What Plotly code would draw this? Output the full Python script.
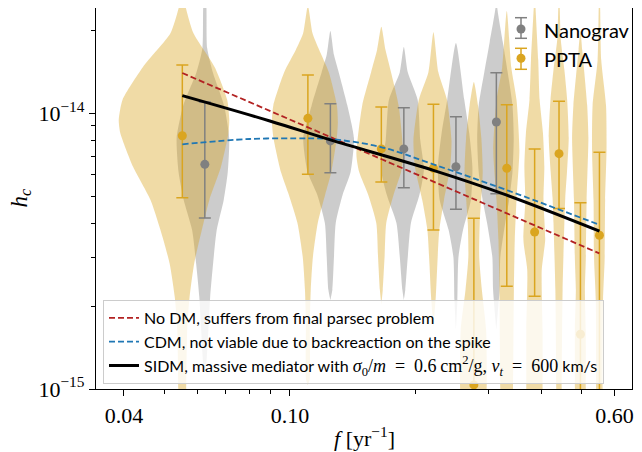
import plotly.graph_objects as go

# ---- data ----
# NANOGrav: frequency [1/yr], h_c median and 1-sigma bounds
nano_f = [0.0625, 0.125, 0.1875, 0.25, 0.3125]
nano_h = [6.53e-15, 7.94e-15, 7.43e-15, 6.40e-15, 9.30e-15]
nano_hi = [1.099e-14, 1.083e-14, 1.047e-14, 9.72e-15, 1.403e-14]
nano_lo = [4.17e-15, 6.09e-15, 5.37e-15, 4.49e-15, 5.11e-15]

# PPTA
ppta_f = [0.0552, 0.1104, 0.1656, 0.2208, 0.276, 0.331, 0.386, 0.4416, 0.497, 0.552]
ppta_h = [8.29e-15, 9.59e-15, 7.43e-15, 6.32e-15, 1.035e-15, 6.32e-15, 3.71e-15, 7.14e-15, 1.58e-15, 3.61e-15]
ppta_hi = [1.497e-14, 1.377e-14, 1.054e-14, 1.078e-14, 4.16e-15, 1.074e-14, 7.43e-15, 1.105e-14, 4.74e-15, 7.22e-15]
ppta_lo = [4.94e-15, 6.01e-15, 5.64e-15, 3.77e-15, 2.0e-16, 2.36e-15, 2.17e-15, 4.52e-15, 5.0e-16, 5.0e-16]

# violin outlines: h_c knots (top -> bottom) and half width relative to f
nano_vh = [
    [2.8e-14, 2.41e-14, 1.726e-14, 1.41e-14, 1.07e-14, 8.13e-15, 6.12e-15, 4.85e-15, 3.78e-15, 2.86e-15, 2.16e-15, 1.64e-15, 1.22e-15, 1.15e-15],
    [1.99e-14, 1.63e-14, 1.41e-14, 1.07e-14, 8.13e-15, 6.12e-15, 5.06e-15, 4.0e-15, 3.01e-15, 2.29e-15, 2.10e-15],
    [1.74e-14, 1.41e-14, 1.12e-14, 8.0e-15, 6.23e-15, 5.06e-15, 4.0e-15, 3.01e-15, 2.29e-15, 2.10e-15],
    [1.80e-14, 1.12e-14, 8.48e-15, 6.38e-15, 4.85e-15, 3.78e-15, 3.01e-15, 2.10e-15, 1.64e-15],
    [2.8e-14, 2.41e-14, 1.815e-14, 1.41e-14, 1.07e-14, 8.13e-15, 6.12e-15, 4.85e-15, 4.0e-15, 3.01e-15, 2.29e-15, 1.64e-15],
]
nano_vw = [
    [0, 0.009, 0.013, 0.045, 0.112, 0.144, 0.135, 0.11, 0.068, 0.047, 0.03, 0.02, 0.008, 0],
    [0, 0.02, 0.047, 0.098, 0.139, 0.118, 0.07, 0.03, 0.02, 0.011, 0],
    [0, 0.022, 0.079, 0.095, 0.117, 0.09, 0.04, 0.022, 0.008, 0],
    [0, 0.047, 0.076, 0.095, 0.086, 0.04, 0.014, 0.008, 0],
    [0, 0.005, 0.036, 0.0645, 0.093, 0.1005, 0.093, 0.073, 0.05, 0.022, 0.018, 0],
]
ppta_vh = [
    [2.8e-14, 2.41e-14, 1.95e-14, 1.47e-14, 1.12e-14, 9.46e-15, 8.48e-15, 6.38e-15, 4.85e-15, 3.78e-15, 2.86e-15, 2.16e-15, 1.64e-15, 1.0e-15, 7.7e-16],
    [2.45e-14, 1.95e-14, 1.70e-14, 1.41e-14, 1.07e-14, 9.30e-15, 8.13e-15, 6.12e-15, 5.06e-15, 4.0e-15, 3.01e-15, 2.29e-15, 1.735e-15, 1.08e-15, 1.035e-15],
    [2.06e-14, 1.70e-14, 1.41e-14, 1.07e-14, 7.06e-15, 6.12e-15, 5.06e-15, 4.0e-15, 3.01e-15, 2.29e-15, 2.02e-15],
    [1.97e-14, 1.41e-14, 1.12e-14, 8.0e-15, 6.38e-15, 4.85e-15, 3.78e-15, 2.86e-15, 2.16e-15, 1.68e-15],
    [1.30e-14, 1.07e-14, 8.13e-15, 6.12e-15, 4.0e-15, 3.01e-15, 2.29e-15, 1.64e-15, 1.0e-15, 7.7e-16],
    [2.35e-14, 1.47e-14, 1.12e-14, 7.36e-15, 4.85e-15, 3.47e-15, 2.29e-15, 1.0e-15, 7.7e-16],
    [2.8e-14, 2.41e-14, 1.56e-14, 1.12e-14, 8.48e-15, 6.38e-15, 4.85e-15, 3.47e-15, 2.70e-15, 1.64e-15, 1.0e-15, 7.7e-16],
    [2.8e-14, 2.41e-14, 1.845e-14, 1.44e-14, 1.12e-14, 8.13e-15, 6.12e-15, 4.93e-15, 4.0e-15, 2.29e-15, 1.0e-15, 7.7e-16],
    [2.0e-14, 1.70e-14, 1.07e-14, 8.13e-15, 4.85e-15, 2.94e-15, 2.29e-15, 1.64e-15, 1.0e-15, 7.7e-16],
    [2.8e-14, 2.41e-14, 1.56e-14, 1.07e-14, 7.36e-15, 4.85e-15, 2.94e-15, 2.10e-15, 1.0e-15, 7.7e-16],
]
ppta_vw = [
    [0, 0.02, 0.0635, 0.196, 0.281, 0.296, 0.29, 0.2375, 0.161, 0.114, 0.068, 0.041, 0.0275, 0.022, 0.02],
    [0, 0.026, 0.064, 0.1225, 0.1735, 0.18, 0.173, 0.138, 0.1, 0.056, 0.028, 0.016, 0.011, 0.01, 0],
    [0, 0.023, 0.055, 0.1, 0.1285, 0.115, 0.07, 0.0275, 0.018, 0.008, 0],
    [0, 0.0275, 0.0775, 0.1045, 0.097, 0.06, 0.033, 0.022, 0.013, 0],
    [0, 0.023, 0.042, 0.05, 0.033, 0.03, 0.045, 0.07, 0.073, 0.06],
    [0, 0.025, 0.055, 0.072, 0.055, 0.045, 0.04, 0.035, 0.03],
    [0, 0.005, 0.02, 0.028, 0.047, 0.055, 0.05, 0.06, 0.04, 0.045, 0.045, 0.045],
    [0, 0.004, 0.01, 0.03, 0.046, 0.055, 0.045, 0.035, 0.03, 0.02, 0.015, 0.015],
    [0, 0.01, 0.038, 0.045, 0.035, 0.03, 0.025, 0.03, 0.03, 0.03],
    [0, 0.004, 0.01, 0.037, 0.04, 0.032, 0.029, 0.02, 0.018, 0.018],
]

# model curves
nodm_f = [0.0552, 0.5515]
nodm_h = [1.40e-14, 3.105e-15]
cdm_f = [0.0552, 0.0801, 0.1104, 0.1247, 0.1644, 0.2207, 0.3305, 0.552]
cdm_h = [7.72e-15, 8.07e-15, 8.11e-15, 8.07e-15, 7.56e-15, 6.53e-15, 5.27e-15, 3.94e-15]
sidm_f = [0.0552, 0.0895, 0.125, 0.2208, 0.331, 0.552]
sidm_h = [1.159e-14, 9.38e-15, 8.01e-15, 6.21e-15, 5.05e-15, 3.74e-15]

x_ticks = [0.04, 0.1, 0.6]
x_ticktext = ["0.04", "0.10", "0.60"]
x_minor = [0.05, 0.06, 0.07, 0.08, 0.09, 0.2, 0.3, 0.4, 0.5]
y_ticks = [1e-15, 1e-14]
y_ticktext = ["10<sup>\u221215</sup>", "10<sup>\u221214</sup>"]
y_minor = [2e-15, 3e-15, 4e-15, 5e-15, 6e-15, 7e-15, 8e-15, 9e-15, 2e-14]

GOLD = "#DAA520"
GRAY = "#808080"
SERIF = "Liberation Serif"
SANS = "Lato"

fig = go.Figure()


def add_violin(f, hs, ws, color):
    xs = [f * (1 + w) for w in ws] + [f * (1 - w) for w in reversed(ws)]
    ys = list(hs) + list(reversed(hs))
    fig.add_trace(go.Scatter(x=xs, y=ys, mode="lines", fill="toself", fillcolor=color,
                             line=dict(width=0, shape="spline", smoothing=0.6),
                             hoverinfo="skip", showlegend=False))


for f, hs, ws in zip(nano_f, nano_vh, nano_vw):
    add_violin(f, hs, ws, "rgba(128,128,128,0.4)")
for f, hs, ws in zip(ppta_f, ppta_vh, ppta_vw):
    add_violin(f, hs, ws, "rgba(218,165,32,0.4)")

# data points with error bars
for f, h, hi, lo, c in [(nano_f, nano_h, nano_hi, nano_lo, GRAY),
                        (ppta_f, ppta_h, ppta_hi, ppta_lo, GOLD)]:
    fig.add_trace(go.Scatter(
        x=f, y=h, mode="markers", showlegend=False,
        marker=dict(color=c, size=9),
        error_y=dict(type="data", symmetric=False,
                     array=[a - b for a, b in zip(hi, h)],
                     arrayminus=[b - a for a, b in zip(lo, h)],
                     color=c, thickness=1.5, width=6)))

fig.add_trace(go.Scatter(x=nodm_f, y=nodm_h, mode="lines", name="No DM, suffers from final parsec problem",
                         line=dict(color="#B22222", width=1.8, dash="6px,3px")))
fig.add_trace(go.Scatter(x=cdm_f, y=cdm_h, mode="lines", name="CDM, not viable due to backreaction on the spike",
                         line=dict(color="#1f77b4", width=1.8, dash="6px,3px", shape="spline")))
math = ("<span style='font-family:Liberation Serif;font-size:18px'><i>\u03c3</i><sub>0</sub>/<i>m</i>\u2002=\u20020.6\u2009cm<sup>2</sup>/g, "
        "<i>v<sub>t</sub></i>\u2002=\u2002600</span>")
fig.add_trace(go.Scatter(x=sidm_f, y=sidm_h, mode="lines",
                         name="SIDM, massive mediator with " + math + " km/s",
                         line=dict(color="black", width=3, shape="spline")))

# the page body adds an 8px margin; plot box in page pixels
OFF = 8
W, H = 642 - OFF, 452 - OFF
L, R, T, B = 96, 632, 8, 389
px = lambda x: (x - L) / (R - L)
py = lambda y: (B - y) / (B - T)

shapes = []
annotations = []
for (cy, top, bot, c, label) in [(29, 17.7, 38.3, GRAY, "Nanograv"), (58.3, 48.3, 69.3, GOLD, "PPTA")]:
    xc = 521
    shapes.append(dict(type="line", xref="paper", yref="paper", x0=px(xc), x1=px(xc), y0=py(top), y1=py(bot),
                       line=dict(color=c, width=1.5)))
    for yy in (top, bot):
        shapes.append(dict(type="line", xref="paper", yref="paper", x0=px(xc - 6), x1=px(xc + 6), y0=py(yy), y1=py(yy),
                           line=dict(color=c, width=1.5)))
    shapes.append(dict(type="circle", xref="paper", yref="paper", x0=px(xc - 4.5), x1=px(xc + 4.5),
                       y0=py(cy + 4.5), y1=py(cy - 4.5), fillcolor=c, line=dict(width=0)))
    annotations.append(dict(xref="paper", yref="paper", x=px(542), y=py(cy + 1), xanchor="left", yanchor="middle",
                            text=label, showarrow=False, font=dict(family=SANS, size=20, color="black")))

annotations.append(dict(xref="paper", yref="paper", x=px(20), y=0.5, text="<i>h<sub>c</sub></i>", textangle=-90,
                        showarrow=False, xanchor="center", yanchor="middle",
                        font=dict(family=SERIF, size=23, color="black")))
annotations.append(dict(xref="paper", yref="paper", x=0.5, y=py(437), text="<i>f</i> [yr<sup>\u22121</sup>]",
                        showarrow=False, xanchor="center", yanchor="middle",
                        font=dict(family=SERIF, size=22, color="black")))

axis_common = dict(type="log", showgrid=False, zeroline=False, showline=True, linecolor="black", linewidth=1.2,
                   mirror=True, ticks="outside", ticklen=6, tickwidth=1, tickcolor="black",
                   tickfont=dict(family=SERIF, size=22, color="black"))

fig.update_layout(
    width=W, height=H,
    margin=dict(l=L - OFF, r=W - (R - OFF), t=T - OFF, b=H - (B - OFF)),
    plot_bgcolor="white", paper_bgcolor="white",
    xaxis=dict(range=[-1.465, -0.180], tickmode="array", tickvals=x_ticks, ticktext=x_ticktext,
               minor=dict(tickmode="array", tickvals=x_minor, ticks="outside", ticklen=3.5, tickwidth=0.8,
                          tickcolor="black", showgrid=False),
               **axis_common),
    yaxis=dict(range=[-15, -13.618], tickmode="array", tickvals=y_ticks, ticktext=y_ticktext,
               minor=dict(tickmode="array", tickvals=y_minor, ticks="outside", ticklen=3.5, tickwidth=0.8,
                          tickcolor="black", showgrid=False),
               **axis_common),
    legend=dict(x=px(103), y=py(300), xanchor="left", yanchor="top",
                bgcolor="rgba(255,255,255,0.8)", bordercolor="#cccccc", borderwidth=1,
                font=dict(family=SANS, size=16, color="black")),
    shapes=shapes, annotations=annotations,
)

fig.write_html("out.html")
